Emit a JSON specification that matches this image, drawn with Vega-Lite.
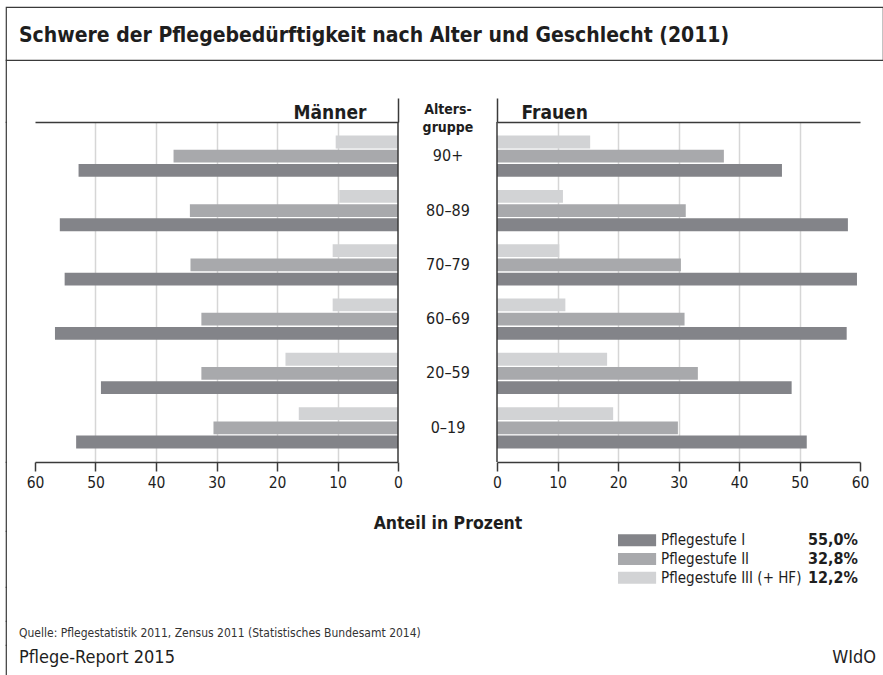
{
  "$schema": "https://vega.github.io/schema/vega-lite/v6.json",
  "padding": {"left": 5, "top": 6, "right": 0, "bottom": 0},
  "background": "white",
  "config": {
    "font": "DejaVu Sans Condensed, Roboto, sans-serif",
    "view": {"stroke": null},
    "text": {"font": "DejaVu Sans Condensed, Roboto, sans-serif", "color": "#1e1e1e"},
    "axis": {"labelFont": "DejaVu Sans Condensed, Roboto, sans-serif", "titleFont": "DejaVu Sans Condensed, Roboto, sans-serif", "labelColor": "#1e1e1e", "titleColor": "#1e1e1e"}
  },
  "datasets": {
    "maenner": [
      {"alter": "90+", "stufe": "Pflegestufe I", "wert": 52.8},
      {"alter": "90+", "stufe": "Pflegestufe II", "wert": 37.1},
      {"alter": "90+", "stufe": "Pflegestufe III (+ HF)", "wert": 10.3},
      {"alter": "80–89", "stufe": "Pflegestufe I", "wert": 55.9},
      {"alter": "80–89", "stufe": "Pflegestufe II", "wert": 34.4},
      {"alter": "80–89", "stufe": "Pflegestufe III (+ HF)", "wert": 9.7},
      {"alter": "70–79", "stufe": "Pflegestufe I", "wert": 55.1},
      {"alter": "70–79", "stufe": "Pflegestufe II", "wert": 34.3},
      {"alter": "70–79", "stufe": "Pflegestufe III (+ HF)", "wert": 10.8},
      {"alter": "60–69", "stufe": "Pflegestufe I", "wert": 56.7},
      {"alter": "60–69", "stufe": "Pflegestufe II", "wert": 32.5},
      {"alter": "60–69", "stufe": "Pflegestufe III (+ HF)", "wert": 10.8},
      {"alter": "20–59", "stufe": "Pflegestufe I", "wert": 49.1},
      {"alter": "20–59", "stufe": "Pflegestufe II", "wert": 32.5},
      {"alter": "20–59", "stufe": "Pflegestufe III (+ HF)", "wert": 18.6},
      {"alter": "0–19", "stufe": "Pflegestufe I", "wert": 53.2},
      {"alter": "0–19", "stufe": "Pflegestufe II", "wert": 30.5},
      {"alter": "0–19", "stufe": "Pflegestufe III (+ HF)", "wert": 16.4}
    ],
    "frauen": [
      {"alter": "90+", "stufe": "Pflegestufe I", "wert": 47.1},
      {"alter": "90+", "stufe": "Pflegestufe II", "wert": 37.5},
      {"alter": "90+", "stufe": "Pflegestufe III (+ HF)", "wert": 15.4},
      {"alter": "80–89", "stufe": "Pflegestufe I", "wert": 58.0},
      {"alter": "80–89", "stufe": "Pflegestufe II", "wert": 31.2},
      {"alter": "80–89", "stufe": "Pflegestufe III (+ HF)", "wert": 10.9},
      {"alter": "70–79", "stufe": "Pflegestufe I", "wert": 59.5},
      {"alter": "70–79", "stufe": "Pflegestufe II", "wert": 30.4},
      {"alter": "70–79", "stufe": "Pflegestufe III (+ HF)", "wert": 10.3},
      {"alter": "60–69", "stufe": "Pflegestufe I", "wert": 57.8},
      {"alter": "60–69", "stufe": "Pflegestufe II", "wert": 31.0},
      {"alter": "60–69", "stufe": "Pflegestufe III (+ HF)", "wert": 11.3},
      {"alter": "20–59", "stufe": "Pflegestufe I", "wert": 48.7},
      {"alter": "20–59", "stufe": "Pflegestufe II", "wert": 33.2},
      {"alter": "20–59", "stufe": "Pflegestufe III (+ HF)", "wert": 18.2},
      {"alter": "0–19", "stufe": "Pflegestufe I", "wert": 51.2},
      {"alter": "0–19", "stufe": "Pflegestufe II", "wert": 29.9},
      {"alter": "0–19", "stufe": "Pflegestufe III (+ HF)", "wert": 19.2}
    ],
    "legende": [
      {"stufe": "Pflegestufe I", "anteil": "55,0%"},
      {"stufe": "Pflegestufe II", "anteil": "32,8%"},
      {"stufe": "Pflegestufe III (+ HF)", "anteil": "12,2%"}
    ],
    "titel": [{"text": "Schwere der Pflegebedürftigkeit nach Alter und Geschlecht (2011)"}],
    "quelle": [{"text": "Quelle: Pflegestatistik 2011, Zensus 2011 (Statistisches Bundesamt 2014)"}],
    "fuss": [{"links": "Pflege-Report 2015", "rechts": "WIdO"}]
  },
  "spacing": 0,
  "bounds": "flush",
  "vconcat": [
    {
      "width": 877,
      "height": 53,
      "view": {"stroke": "#3a3a3a", "strokeWidth": 1.2},
      "data": {"name": "titel"},
      "mark": {"type": "text", "align": "left", "baseline": "middle", "dx": 13, "dy": 2, "fontSize": 21, "fontWeight": "bold", "color": "#1e1e1e"},
      "encoding": {
        "text": {"field": "text"},
        "x": {"datum": 0, "type": "quantitative", "scale": {"domain": [0, 1]}, "axis": null}
      }
    },
    {
      "columns": 5,
      "spacing": 0,
      "bounds": "flush",
      "align": "each",
      "concat": [
        {"width": 0.01, "height": 62, "view": {"stroke": "#3a3a3a", "strokeWidth": 1.2}, "data": {"values": []}, "mark": "point"},
        {"width": 28, "height": 1, "data": {"values": []}, "mark": "point"},
        {"width": 1, "height": 1, "data": {"values": []}, "mark": "point"},
        {"width": 1, "height": 1, "data": {"values": []}, "mark": "point"},
        {"width": 1, "height": 1, "data": {"values": []}, "mark": "point"},

        {"width": 0.01, "height": 340, "view": {"stroke": "#3a3a3a", "strokeWidth": 1.2}, "data": {"values": []}, "mark": "point"},
        {"width": 1, "height": 1, "data": {"values": []}, "mark": "point"},
        {
          "width": 363,
          "height": 340,
          "layer": [
            {
              "data": {"name": "maenner"},
              "mark": {"type": "bar"},
              "encoding": {
                "y": {"field": "alter", "type": "nominal", "sort": ["90+", "80–89", "70–79", "60–69", "20–59", "0–19"], "scale": {"paddingInner": 0.24, "paddingOuter": 0.25}, "axis": null},
                "yOffset": {"field": "stufe", "type": "nominal", "sort": ["Pflegestufe III (+ HF)", "Pflegestufe II", "Pflegestufe I"], "scale": {"paddingInner": 0.1}},
                "x": {
                  "field": "wert", "type": "quantitative",
                  "scale": {"domain": [0, 60], "reverse": true, "nice": false},
                  "axis": {
                    "orient": "bottom", "values": [0, 10, 20, 30, 40, 50, 60], "title": null,
                    "grid": true, "gridColor": "#d6d6d6", "gridWidth": 1.5,
                    "gridOpacity": {"condition": {"test": "datum.value == 60 || datum.value == 0", "value": 0}, "value": 1},
                    "domainColor": "#3a3a3a", "domainWidth": 1.5, "tickColor": "#3a3a3a", "tickWidth": 1.5, "tickSize": 9,
                    "labelFontSize": 15.5, "labelPadding": 4, "labelFlush": false
                  }
                },
                "color": {"field": "stufe", "type": "nominal", "scale": {"domain": ["Pflegestufe I", "Pflegestufe II", "Pflegestufe III (+ HF)"], "range": ["#838489", "#a8a9ac", "#d2d3d5"]}, "legend": null}
              }
            },
            {
              "data": {"values": [{}]},
              "mark": {"type": "rule", "color": "#3a3a3a", "strokeWidth": 1.5},
              "encoding": {
                "x": {
                  "datum": 0, "type": "quantitative",
                  "axis": {
                    "orient": "top", "values": [0], "labels": false, "grid": false,
                    "ticks": true, "tickSize": 24, "tickColor": "#3a3a3a", "tickWidth": 1.5,
                    "domainColor": "#3a3a3a", "domainWidth": 1.5,
                    "title": "Männer", "titleAlign": "right", "titleBaseline": "alphabetic", "titleX": 331, "titleY": -4,
                    "titleFontSize": 19, "titleFontWeight": "bold"
                  }
                }
              }
            }
          ],
          "resolve": {"axis": {"x": "independent"}}
        },
        {"width": 99, "height": 1, "data": {"values": []}, "mark": "point"},
        {
          "width": 363,
          "height": 340,
          "layer": [
            {
              "data": {"name": "frauen"},
              "mark": {"type": "bar"},
              "encoding": {
                "y": {
                  "field": "alter", "type": "nominal", "sort": ["90+", "80–89", "70–79", "60–69", "20–59", "0–19"],
                  "scale": {"paddingInner": 0.24, "paddingOuter": 0.25},
                  "axis": {
                    "orient": "left", "domain": false, "ticks": false, "tickSize": 0,
                    "labelAlign": "center", "labelPadding": 49.5, "labelFontSize": 16,
                    "title": ["Alters-", "gruppe"], "titleAngle": 0, "titleX": -49.5, "titleY": -9,
                    "titleAlign": "center", "titleBaseline": "alphabetic", "titleFontSize": 14, "titleFontWeight": "bold", "titleLineHeight": 18
                  }
                },
                "yOffset": {"field": "stufe", "type": "nominal", "sort": ["Pflegestufe III (+ HF)", "Pflegestufe II", "Pflegestufe I"], "scale": {"paddingInner": 0.1}},
                "x": {
                  "field": "wert", "type": "quantitative",
                  "scale": {"domain": [0, 60], "nice": false},
                  "axis": {
                    "orient": "bottom", "values": [0, 10, 20, 30, 40, 50, 60],
                    "grid": true, "gridColor": "#d6d6d6", "gridWidth": 1.5,
                    "gridOpacity": {"condition": {"test": "datum.value == 60 || datum.value == 0", "value": 0}, "value": 1},
                    "domainColor": "#3a3a3a", "domainWidth": 1.5, "tickColor": "#3a3a3a", "tickWidth": 1.5, "tickSize": 9,
                    "labelFontSize": 15.5, "labelPadding": 4, "labelFlush": false,
                    "title": "Anteil in Prozent", "titleX": -49.5, "titleY": 66, "titleAlign": "center", "titleBaseline": "alphabetic",
                    "titleFontSize": 17.5, "titleFontWeight": "bold"
                  }
                },
                "color": {"field": "stufe", "type": "nominal", "scale": {"domain": ["Pflegestufe I", "Pflegestufe II", "Pflegestufe III (+ HF)"], "range": ["#838489", "#a8a9ac", "#d2d3d5"]}, "legend": null}
              }
            },
            {
              "data": {"values": [{}]},
              "mark": {"type": "rule", "color": "#3a3a3a", "strokeWidth": 1.5},
              "encoding": {
                "x": {
                  "datum": 0, "type": "quantitative",
                  "axis": {
                    "orient": "top", "values": [0], "labels": false, "grid": false,
                    "ticks": true, "tickSize": 24, "tickColor": "#3a3a3a", "tickWidth": 1.5,
                    "domainColor": "#3a3a3a", "domainWidth": 1.5,
                    "title": "Frauen", "titleAlign": "left", "titleBaseline": "alphabetic", "titleX": 24, "titleY": -4,
                    "titleFontSize": 19, "titleFontWeight": "bold"
                  }
                }
              }
            }
          ],
          "resolve": {"axis": {"x": "independent"}}
        },

        {"width": 0.01, "height": 69, "view": {"stroke": "#3a3a3a", "strokeWidth": 1.2}, "data": {"values": []}, "mark": "point"},
        {"width": 1, "height": 1, "data": {"values": []}, "mark": "point"},
        {"width": 1, "height": 1, "data": {"values": []}, "mark": "point"},
        {"width": 1, "height": 1, "data": {"values": []}, "mark": "point"},
        {"width": 1, "height": 1, "data": {"values": []}, "mark": "point"},

        {"width": 0.01, "height": 56, "view": {"stroke": "#3a3a3a", "strokeWidth": 1.2}, "data": {"values": []}, "mark": "point"},
        {"width": 1, "height": 1, "data": {"values": []}, "mark": "point"},
        {"width": 1, "height": 1, "data": {"values": []}, "mark": "point"},
        {"width": 1, "height": 1, "data": {"values": []}, "mark": "point"},
        {
          "width": 363,
          "height": 56,
          "data": {"name": "legende"},
          "layer": [
            {
              "mark": {"type": "bar"},
              "encoding": {
                "y": {"field": "stufe", "type": "nominal", "sort": ["Pflegestufe I", "Pflegestufe II", "Pflegestufe III (+ HF)"], "scale": {"paddingInner": 0.37, "paddingOuter": 0.18}, "axis": null},
                "x": {"datum": 20, "type": "quantitative", "scale": {"domain": [0, 60], "nice": false}, "axis": null},
                "x2": {"datum": 26.3},
                "color": {"field": "stufe", "type": "nominal", "scale": {"domain": ["Pflegestufe I", "Pflegestufe II", "Pflegestufe III (+ HF)"], "range": ["#838489", "#a8a9ac", "#d2d3d5"]}, "legend": null}
              }
            },
            {
              "mark": {"type": "text", "align": "left", "baseline": "middle", "dx": 5, "fontSize": 15},
              "encoding": {
                "y": {"field": "stufe", "type": "nominal", "sort": ["Pflegestufe I", "Pflegestufe II", "Pflegestufe III (+ HF)"], "axis": null},
                "x": {"datum": 26.3, "type": "quantitative"},
                "text": {"field": "stufe"}
              }
            },
            {
              "mark": {"type": "text", "align": "right", "baseline": "middle", "dx": -2, "fontSize": 16, "fontWeight": "bold"},
              "encoding": {
                "y": {"field": "stufe", "type": "nominal", "sort": ["Pflegestufe I", "Pflegestufe II", "Pflegestufe III (+ HF)"], "axis": null},
                "x": {"datum": 60, "type": "quantitative"},
                "text": {"field": "anteil"}
              }
            }
          ]
        },

        {"width": 0.01, "height": 34, "view": {"stroke": "#3a3a3a", "strokeWidth": 1.2}, "data": {"values": []}, "mark": "point"},
        {"width": 1, "height": 1, "data": {"values": []}, "mark": "point"},
        {"width": 1, "height": 1, "data": {"values": []}, "mark": "point"},
        {"width": 1, "height": 1, "data": {"values": []}, "mark": "point"},
        {"width": 1, "height": 1, "data": {"values": []}, "mark": "point"},

        {"width": 0.01, "height": 24, "view": {"stroke": "#3a3a3a", "strokeWidth": 1.2}, "data": {"values": []}, "mark": "point"},
        {
          "width": 28,
          "height": 24,
          "data": {"name": "quelle"},
          "mark": {"type": "text", "align": "left", "baseline": "middle", "dx": 12, "fontSize": 12, "color": "#333333"},
          "encoding": {
            "x": {"datum": 0, "type": "quantitative", "scale": {"domain": [0, 1]}, "axis": null},
            "text": {"field": "text"}
          }
        },
        {"width": 1, "height": 1, "data": {"values": []}, "mark": "point"},
        {"width": 1, "height": 1, "data": {"values": []}, "mark": "point"},
        {"width": 1, "height": 1, "data": {"values": []}, "mark": "point"},

        {"width": 0.01, "height": 30, "view": {"stroke": "#3a3a3a", "strokeWidth": 1.2}, "data": {"values": []}, "mark": "point"},
        {
          "width": 28,
          "height": 30,
          "data": {"name": "fuss"},
          "mark": {"type": "text", "align": "left", "baseline": "middle", "dx": 12, "dy": -2, "fontSize": 18},
          "encoding": {
            "x": {"datum": 0, "type": "quantitative", "scale": {"domain": [0, 1]}, "axis": null},
            "text": {"field": "links"}
          }
        },
        {"width": 1, "height": 1, "data": {"values": []}, "mark": "point"},
        {"width": 1, "height": 1, "data": {"values": []}, "mark": "point"},
        {
          "width": 363,
          "height": 30,
          "data": {"name": "fuss"},
          "mark": {"type": "text", "align": "right", "baseline": "middle", "dx": 16, "dy": -2, "fontSize": 18},
          "encoding": {
            "x": {"datum": 1, "type": "quantitative", "scale": {"domain": [0, 1]}, "axis": null},
            "text": {"field": "rechts"}
          }
        }
      ]
    }
  ]
}
